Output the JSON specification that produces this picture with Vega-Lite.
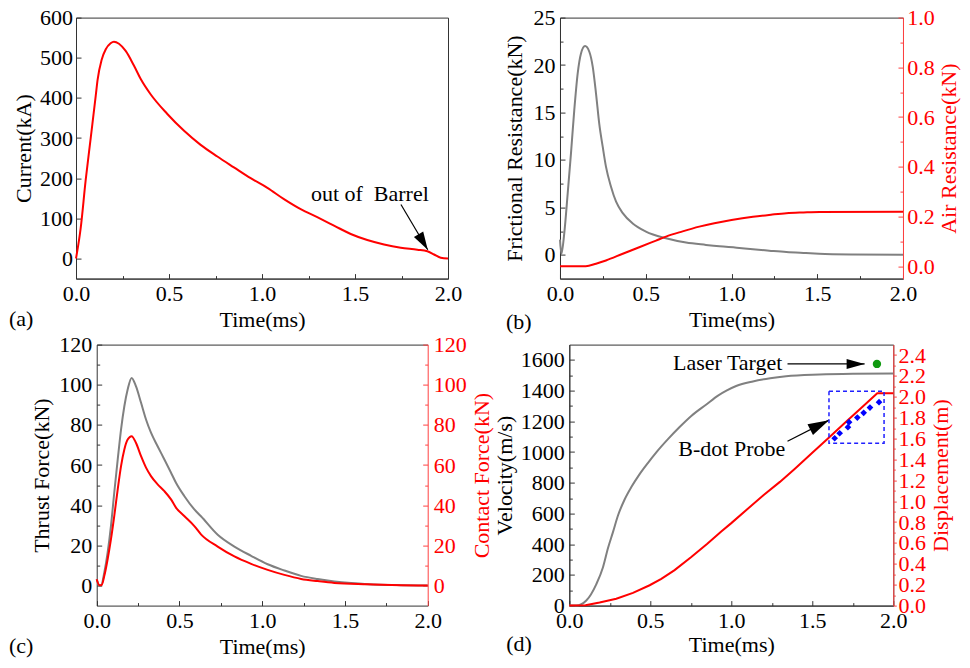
{
  "$schema": "https://vega.github.io/schema/vega-lite/v6.json",
  "padding": {"left": 8, "top": 5.6, "right": 0, "bottom": 0},
  "config": {
    "font": "Liberation Serif",
    "view": {"stroke": "#333333", "strokeWidth": 1},
    "axis": {
      "labelFont": "Liberation Serif", "labelFontSize": 22, "titleFont": "Liberation Serif", "titleFontSize": 22,
      "titleFontWeight": "normal", "labelColor": "black", "titleColor": "black", "domainColor": "#333333",
      "tickColor": "#333333", "grid": false, "labelFlush": false, "labelOverlap": false,
      "minExtent": 0, "maxExtent": 0, "domainWidth": 1, "tickWidth": 1
    },
    "text": {"font": "Liberation Serif", "fontSize": 22},
    "line": {"strokeWidth": 2, "interpolate": "monotone"}
  },
  "datasets": {
    "cur": [
      {"t":0,"v":0},{"t":0.025,"v":75},{"t":0.052,"v":195},{"t":0.079,"v":300},{"t":0.106,"v":405},{"t":0.116,"v":445},
      {"t":0.138,"v":495},{"t":0.16,"v":521},{"t":0.186,"v":536},{"t":0.204,"v":540},{"t":0.231,"v":535},{"t":0.267,"v":517},{"t":0.312,"v":480},
      {"t":0.348,"v":447},{"t":0.401,"v":409},{"t":0.491,"v":360},{"t":0.581,"v":318},{"t":0.67,"v":283},{"t":0.76,"v":254},
      {"t":0.849,"v":227},{"t":0.939,"v":200},{"t":1.029,"v":176},{"t":1.118,"v":148},{"t":1.208,"v":123},{"t":1.297,"v":103},
      {"t":1.387,"v":82},{"t":1.477,"v":61},{"t":1.566,"v":46},{"t":1.656,"v":35},{"t":1.746,"v":27},{"t":1.835,"v":22},
      {"t":1.889,"v":18},{"t":1.925,"v":10},{"t":1.961,"v":2},{"t":2.0,"v":0}
    ],
    "annA": [{"label":"out of\u00a0 Barrel","t":1.263,"v":142.6}],
    "arrA": [{"t":1.747,"v":134.4,"t2":1.891,"v2":21.7}],
    "fric": [
      {"t":0,"v":1.6},{"t":0.008,"v":0.1},{"t":0.025,"v":2.3},{"t":0.045,"v":6.5},{"t":0.064,"v":10.7},{"t":0.083,"v":15.2},
      {"t":0.103,"v":19.1},{"t":0.122,"v":21.2},{"t":0.146,"v":22.0},{"t":0.171,"v":21.4},{"t":0.191,"v":19.8},{"t":0.21,"v":17.0},
      {"t":0.229,"v":13.8},{"t":0.249,"v":11.4},{"t":0.268,"v":9.3},{"t":0.297,"v":7.2},{"t":0.327,"v":5.6},{"t":0.366,"v":4.4},
      {"t":0.424,"v":3.3},{"t":0.501,"v":2.45},{"t":0.618,"v":1.75},{"t":0.735,"v":1.3},{"t":0.851,"v":1.05},{"t":0.93,"v":0.9},
      {"t":1.03,"v":0.75},{"t":1.125,"v":0.58},{"t":1.22,"v":0.44},{"t":1.32,"v":0.3},{"t":1.42,"v":0.2},{"t":1.51,"v":0.12},
      {"t":1.7,"v":0.04},{"t":2.0,"v":0.0}
    ],
    "air": [
      {"t":0,"v":0},{"t":0.15,"v":0},{"t":0.21,"v":0.01},{"t":0.268,"v":0.023},{"t":0.366,"v":0.05},{"t":0.462,"v":0.076},
      {"t":0.56,"v":0.103},{"t":0.618,"v":0.119},{"t":0.715,"v":0.14},{"t":0.812,"v":0.159},{"t":0.9,"v":0.173},{"t":1.0,"v":0.186},
      {"t":1.125,"v":0.199},{"t":1.23,"v":0.207},{"t":1.32,"v":0.213},{"t":1.42,"v":0.216},{"t":1.514,"v":0.218},{"t":2.0,"v":0.219}
    ],
    "thrust": [
      {"t":0,"v":3.1},{"t":0.016,"v":0.15},{"t":0.026,"v":0},{"t":0.046,"v":6.5},{"t":0.066,"v":16.4},{"t":0.086,"v":29.6},
      {"t":0.106,"v":46.2},{"t":0.127,"v":62.8},{"t":0.147,"v":77.7},{"t":0.167,"v":89.3},{"t":0.187,"v":97.6},{"t":0.211,"v":103.4},
      {"t":0.237,"v":99.3},{"t":0.268,"v":91},{"t":0.298,"v":82.7},{"t":0.328,"v":76.1},{"t":0.368,"v":69.4},{"t":0.409,"v":62.8},
      {"t":0.449,"v":56.2},{"t":0.479,"v":51.2},{"t":0.529,"v":44.6},{"t":0.59,"v":37.9},{"t":0.63,"v":34.5},{"t":0.731,"v":25.3},
      {"t":0.832,"v":19.4},{"t":0.933,"v":14.8},{"t":1.033,"v":10.6},{"t":1.134,"v":7.5},{"t":1.235,"v":4.8},{"t":1.335,"v":3.2},
      {"t":1.436,"v":2.0},{"t":1.537,"v":1.2},{"t":1.637,"v":0.66},{"t":1.839,"v":0.17},{"t":2.0,"v":0}
    ],
    "contact": [
      {"t":0,"v":3.1},{"t":0.016,"v":0.15},{"t":0.03,"v":0.3},{"t":0.046,"v":4.8},{"t":0.066,"v":13.1},{"t":0.086,"v":23},
      {"t":0.106,"v":34.6},{"t":0.127,"v":47.9},{"t":0.147,"v":59.5},{"t":0.167,"v":67.8},{"t":0.187,"v":72.7},{"t":0.211,"v":74.4},
      {"t":0.237,"v":71.1},{"t":0.268,"v":64.4},{"t":0.298,"v":58.7},{"t":0.328,"v":54.5},{"t":0.368,"v":50.4},{"t":0.409,"v":47},
      {"t":0.449,"v":42.9},{"t":0.479,"v":38.8},{"t":0.529,"v":34.6},{"t":0.59,"v":29.6},{"t":0.63,"v":25.5},{"t":0.731,"v":19.4},
      {"t":0.832,"v":14.5},{"t":0.933,"v":10.8},{"t":1.033,"v":7.8},{"t":1.134,"v":5.3},{"t":1.235,"v":3.3},{"t":1.335,"v":2.2},
      {"t":1.436,"v":1.3},{"t":1.637,"v":0.66},{"t":1.839,"v":0.17},{"t":2.0,"v":0}
    ],
    "vel": [
      {"t":0,"v":0},{"t":0.043,"v":0},{"t":0.105,"v":33},{"t":0.167,"v":140},{"t":0.208,"v":250},{"t":0.239,"v":375},
      {"t":0.27,"v":480},{"t":0.3,"v":585},{"t":0.34,"v":688},{"t":0.383,"v":772},{"t":0.43,"v":850},{"t":0.486,"v":930},
      {"t":0.537,"v":998},{"t":0.609,"v":1084},{"t":0.681,"v":1163},{"t":0.753,"v":1235},{"t":0.846,"v":1310},{"t":0.918,"v":1368},
      {"t":0.97,"v":1400},{"t":1.03,"v":1430},{"t":1.133,"v":1460},{"t":1.24,"v":1481},{"t":1.338,"v":1494},{"t":1.544,"v":1505},
      {"t":1.75,"v":1510},{"t":2.0,"v":1512}
    ],
    "disp": [
      {"t":0,"v":0},{"t":0.1,"v":0.004},{"t":0.187,"v":0.03},{"t":0.29,"v":0.066},{"t":0.393,"v":0.122},{"t":0.496,"v":0.195},
      {"t":0.568,"v":0.256},{"t":0.65,"v":0.34},{"t":0.753,"v":0.465},{"t":0.85,"v":0.59},{"t":0.938,"v":0.71},{"t":1.0,"v":0.79},
      {"t":1.1,"v":0.925},{"t":1.2,"v":1.06},{"t":1.3,"v":1.185},{"t":1.391,"v":1.309},{"t":1.5,"v":1.464},{"t":1.6,"v":1.606},
      {"t":1.7,"v":1.748},{"t":1.8,"v":1.89},{"t":1.901,"v":2.034},{"t":2.0,"v":2.034}
    ],
    "probe": [
      {"t":1.638,"v":1.603},{"t":1.669,"v":1.651},{"t":1.72,"v":1.709},{"t":1.727,"v":1.757},
      {"t":1.778,"v":1.801},{"t":1.817,"v":1.846},{"t":1.856,"v":1.897},{"t":1.912,"v":1.948}
    ],
    "box": [{"t":1.603,"t2":1.943,"v":1.556,"v2":2.054}],
    "laser": [{"t":1.899,"v":1574}],
    "laserText": [{"label":"Laser Target","t":1.315,"v":1534}],
    "laserArrow": [{"t":1.347,"v":1574,"t2":1.823,"v2":1574}],
    "bdotText": [{"label":"B-dot Probe","t":1.333,"v":973}],
    "bdotArrow": [{"t":1.347,"v":1071,"t2":1.603,"v2":1208}]
  },
  "columns": 1,
  "align": "none",
  "bounds": "full",
  "spacing": 0,
  "concat": [
    {
      "bounds": "flush",
      "spacing": 112,
      "hconcat": [
        {
          "width": 372, "height": 261,
          "title": {"text": "(a)", "orient": "bottom", "anchor": "start", "frame": "group", "baseline": "top", "dx": -67, "offset": -21.4, "font": "Liberation Serif", "fontSize": 22, "fontWeight": "normal", "color": "black"},
          "layer": [
            {
              "data": {"name": "cur"},
              "mark": {"type": "line", "color": "#ff0000"},
              "encoding": {
                "x": {"field": "t", "type": "quantitative", "scale": {"domain": [0, 2], "nice": false, "zero": false},
                  "axis": {"title": "Time(ms)", "values": [0,0.25,0.5,0.75,1,1.25,1.5,1.75,2], "labelOverlap": false,
                    "labelExpr": "(datum.value*2)%1==0 ? format(datum.value,'.1f') : ''",
                    "tickSize": {"condition": {"test": "(datum.value*2)%1==0", "value": -5}, "value": -3},
                    "labelPadding": 9.6, "titlePadding": 30.6, "titleBaseline": "top"}},
                "y": {"field": "v", "type": "quantitative", "scale": {"domain": [-50, 600], "nice": false, "zero": false},
                  "axis": {"title": "Current(kA)", "values": [0,50,100,150,200,250,300,350,400,450,500,550,600], "labelOverlap": false,
                    "labelExpr": "datum.value%100==0 ? datum.label : ''",
                    "tickSize": {"condition": {"test": "datum.value%100==0", "value": -5}, "value": -3},
                    "labelPadding": 8.5, "titlePadding": 41, "titleAngle": 270, "titleBaseline": "bottom"}}
              }
            },
            {
              "data": {"name": "annA"},
              "mark": {"type": "text", "align": "left", "baseline": "alphabetic", "font": "Liberation Serif", "fontSize": 22, "color": "black"},
              "encoding": {
                "x": {"field": "t", "type": "quantitative"},
                "y": {"field": "v", "type": "quantitative"},
                "text": {"field": "label"}
              }
            },
            {
              "data": {"name": "arrA"},
              "mark": {"type": "rule", "color": "black", "strokeWidth": 1.2},
              "encoding": {
                "x": {"field": "t", "type": "quantitative"},
                "y": {"field": "v", "type": "quantitative"},
                "x2": {"field": "t2"}, "y2": {"field": "v2"}
              }
            },
            {
              "data": {"name": "arrA"},
              "mark": {"type": "point", "shape": "M0,0L-0.3,1L0.3,1Z", "filled": true, "color": "black", "opacity": 1, "size": 1296, "angle": 149.4, "strokeWidth": 0},
              "encoding": {
                "x": {"field": "t2", "type": "quantitative"},
                "y": {"field": "v2", "type": "quantitative"}
              }
            }
          ]
        },
        {
          "width": 343, "height": 261,
          "title": {"text": "(b)", "orient": "bottom", "anchor": "start", "frame": "group", "baseline": "top", "dx": -54, "offset": -18.4, "font": "Liberation Serif", "fontSize": 22, "fontWeight": "normal", "color": "black"},
          "layer": [
            {
              "data": {"name": "fric"},
              "mark": {"type": "line", "color": "#808080"},
              "encoding": {
                "x": {"field": "t", "type": "quantitative", "scale": {"domain": [0, 2], "nice": false, "zero": false},
                  "axis": {"title": "Time(ms)", "values": [0,0.25,0.5,0.75,1,1.25,1.5,1.75,2], "labelOverlap": false,
                    "labelExpr": "(datum.value*2)%1==0 ? format(datum.value,'.1f') : ''",
                    "tickSize": {"condition": {"test": "(datum.value*2)%1==0", "value": -5}, "value": -3},
                    "labelPadding": 9.6, "titlePadding": 30.6, "titleBaseline": "top"}},
                "y": {"field": "v", "type": "quantitative", "scale": {"domain": [-2.5, 25], "nice": false, "zero": false},
                  "axis": {"title": "Frictional Resistance(kN)", "values": [0,2.5,5,7.5,10,12.5,15,17.5,20,22.5,25], "labelOverlap": false,
                    "labelExpr": "datum.value%5==0 ? datum.label : ''",
                    "tickSize": {"condition": {"test": "datum.value%5==0", "value": -5}, "value": -3},
                    "labelPadding": 10, "titlePadding": 33.5, "titleAngle": 270, "titleBaseline": "bottom"}}
              }
            },
            {
              "data": {"name": "air"},
              "mark": {"type": "line", "color": "#ff0000"},
              "encoding": {
                "x": {"field": "t", "type": "quantitative"},
                "y": {"field": "v", "type": "quantitative", "scale": {"domain": [-0.05, 1.0], "nice": false, "zero": false},
                  "axis": {"orient": "right", "title": "Air Resistance(kN)", "values": [0,0.1,0.2,0.3,0.4,0.5,0.6,0.7,0.8,0.9,1.0], "labelOverlap": false,
                    "labelExpr": "round(datum.value*10)%2==0 ? format(datum.value,'.1f') : ''",
                    "tickSize": {"condition": {"test": "round(datum.value*10)%2==0", "value": -5}, "value": -3},
                    "labelPadding": 8.7, "titlePadding": 35.8, "titleAngle": 270, "titleBaseline": "top",
                    "labelColor": "#ff0000", "titleColor": "#ff0000", "domainColor": "#ff4040", "tickColor": "#ff4040"}}
              }
            }
          ],
          "resolve": {"scale": {"y": "independent"}}
        }
      ]
    },
    {
      "bounds": "flush",
      "spacing": 141.3,
      "hconcat": [
        {
          "width": 351.7, "height": 261,
          "view": {"stroke": null},
          "title": {"text": "(c)", "orient": "bottom", "anchor": "start", "frame": "group", "baseline": "top", "dx": -67, "offset": -21.4, "font": "Liberation Serif", "fontSize": 22, "fontWeight": "normal", "color": "black"},
          "layer": [
            {
              "data": {"name": "thrust"},
              "mark": {"type": "line", "color": "#808080"},
              "encoding": {
                "x": {"field": "t", "type": "quantitative", "scale": {"domain": [0, 2], "range": [20.7, 351.7], "nice": false, "zero": false},
                  "axis": {"title": "Time(ms)", "values": [0,0.25,0.5,0.75,1,1.25,1.5,1.75,2], "labelOverlap": false,
                    "labelExpr": "(datum.value*2)%1==0 ? format(datum.value,'.1f') : ''",
                    "tickSize": {"condition": {"test": "(datum.value*2)%1==0", "value": -5}, "value": -3},
                    "labelPadding": 9.9, "titlePadding": 30.9, "titleBaseline": "top"}},
                "y": {"field": "v", "type": "quantitative", "scale": {"domain": [-10, 120], "nice": false, "zero": false},
                  "axis": {"title": "Thrust Force(kN)", "values": [0,10,20,30,40,50,60,70,80,90,100,110,120], "labelOverlap": false,
                    "offset": -20.7,
                    "labelExpr": "datum.value%20==0 ? datum.label : ''",
                    "tickSize": {"condition": {"test": "datum.value%20==0", "value": -5}, "value": -3},
                    "labelPadding": 10, "titlePadding": 43.7, "titleAngle": 270, "titleBaseline": "bottom"}}
              }
            },
            {
              "data": {"name": "contact"},
              "mark": {"type": "line", "color": "#ff0000"},
              "encoding": {
                "x": {"field": "t", "type": "quantitative",
                  "axis": {"orient": "top", "title": null, "labels": false, "ticks": false, "domain": true, "domainColor": "#333333"}},
                "y": {"field": "v", "type": "quantitative", "scale": {"domain": [-10, 120], "nice": false, "zero": false},
                  "axis": {"orient": "right", "title": "Contact Force(kN)", "values": [0,10,20,30,40,50,60,70,80,90,100,110,120], "labelOverlap": false,
                    "labelExpr": "datum.value%20==0 ? datum.label : ''",
                    "tickSize": {"condition": {"test": "datum.value%20==0", "value": -5}, "value": -3},
                    "labelPadding": 10.6, "titlePadding": 44.1, "titleAngle": 270, "titleBaseline": "top",
                    "labelColor": "#ff0000", "titleColor": "#ff0000", "domainColor": "#ff4040", "tickColor": "#ff4040"}}
              }
            }
          ],
          "resolve": {"scale": {"y": "independent"}, "axis": {"x": "independent"}}
        },
        {
          "width": 324, "height": 261,
          "title": {"text": "(d)", "orient": "bottom", "anchor": "start", "frame": "group", "baseline": "top", "dx": -63, "offset": -21.4, "font": "Liberation Serif", "fontSize": 22, "fontWeight": "normal", "color": "black"},
          "layer": [
            {
              "data": {"name": "vel"},
              "mark": {"type": "line", "color": "#808080"},
              "encoding": {
                "x": {"field": "t", "type": "quantitative", "scale": {"domain": [0, 2], "nice": false, "zero": false},
                  "axis": {"title": "Time(ms)", "values": [0,0.25,0.5,0.75,1,1.25,1.5,1.75,2], "labelOverlap": false,
                    "labelExpr": "(datum.value*2)%1==0 ? format(datum.value,'.1f') : ''",
                    "tickSize": {"condition": {"test": "(datum.value*2)%1==0", "value": -5}, "value": -3},
                    "labelPadding": 10, "titlePadding": 29.2, "titleBaseline": "top"}},
                "y": {"field": "v", "type": "quantitative", "scale": {"domain": [0, 1700], "nice": false, "zero": false},
                  "axis": {"title": "Velocity(m/s)", "values": [0,100,200,300,400,500,600,700,800,900,1000,1100,1200,1300,1400,1500,1600], "labelOverlap": false,
                    "labelExpr": "datum.value%200==0 ? format(datum.value,'d') : ''",
                    "tickSize": {"condition": {"test": "datum.value%200==0", "value": -5}, "value": -3},
                    "labelPadding": 10, "titlePadding": 52.5, "titleAngle": 270, "titleBaseline": "bottom"}}
              }
            },
            {
              "data": {"name": "laser"},
              "mark": {"type": "point", "shape": "circle", "filled": true, "color": "#109a10", "opacity": 1, "size": 70},
              "encoding": {
                "x": {"field": "t", "type": "quantitative"},
                "y": {"field": "v", "type": "quantitative", "scale": {"domain": [0, 1700], "nice": false, "zero": false}, "axis": null}
              }
            },
            {
              "data": {"name": "laserText"},
              "mark": {"type": "text", "align": "right", "baseline": "alphabetic", "font": "Liberation Serif", "fontSize": 22, "color": "black"},
              "encoding": {
                "x": {"field": "t", "type": "quantitative"},
                "y": {"field": "v", "type": "quantitative", "scale": {"domain": [0, 1700], "nice": false, "zero": false}, "axis": null},
                "text": {"field": "label"}
              }
            },
            {
              "data": {"name": "laserArrow"},
              "mark": {"type": "rule", "color": "black", "strokeWidth": 1.2},
              "encoding": {
                "x": {"field": "t", "type": "quantitative"},
                "y": {"field": "v", "type": "quantitative", "scale": {"domain": [0, 1700], "nice": false, "zero": false}, "axis": null},
                "x2": {"field": "t2"}, "y2": {"field": "v2"}
              }
            },
            {
              "data": {"name": "laserArrow"},
              "mark": {"type": "point", "shape": "M0,0L-0.28,1L0.28,1Z", "filled": true, "color": "black", "opacity": 1, "size": 1296, "angle": 90, "strokeWidth": 0},
              "encoding": {
                "x": {"field": "t2", "type": "quantitative"},
                "y": {"field": "v2", "type": "quantitative", "scale": {"domain": [0, 1700], "nice": false, "zero": false}, "axis": null}
              }
            },
            {
              "data": {"name": "bdotText"},
              "mark": {"type": "text", "align": "right", "baseline": "alphabetic", "font": "Liberation Serif", "fontSize": 22, "color": "black"},
              "encoding": {
                "x": {"field": "t", "type": "quantitative"},
                "y": {"field": "v", "type": "quantitative", "scale": {"domain": [0, 1700], "nice": false, "zero": false}, "axis": null},
                "text": {"field": "label"}
              }
            },
            {
              "data": {"name": "bdotArrow"},
              "mark": {"type": "rule", "color": "black", "strokeWidth": 1.2},
              "encoding": {
                "x": {"field": "t", "type": "quantitative"},
                "y": {"field": "v", "type": "quantitative", "scale": {"domain": [0, 1700], "nice": false, "zero": false}, "axis": null},
                "x2": {"field": "t2"}, "y2": {"field": "v2"}
              }
            },
            {
              "data": {"name": "bdotArrow"},
              "mark": {"type": "point", "shape": "M0,0L-0.29,1L0.29,1Z", "filled": true, "color": "black", "opacity": 1, "size": 1764, "angle": 63.2, "strokeWidth": 0},
              "encoding": {
                "x": {"field": "t2", "type": "quantitative"},
                "y": {"field": "v2", "type": "quantitative", "scale": {"domain": [0, 1700], "nice": false, "zero": false}, "axis": null}
              }
            },
            {
              "data": {"name": "disp"},
              "mark": {"type": "line", "color": "#ff0000", "interpolate": "linear"},
              "encoding": {
                "x": {"field": "t", "type": "quantitative"},
                "y": {"field": "v", "type": "quantitative", "scale": {"domain": [0, 2.5], "nice": false, "zero": false},
                  "axis": {"orient": "right", "title": "Displacement(m)", "labelOverlap": false,
                    "values": [0,0.1,0.2,0.3,0.4,0.5,0.6,0.7,0.8,0.9,1.0,1.1,1.2,1.3,1.4,1.5,1.6,1.7,1.8,1.9,2.0,2.1,2.2,2.3,2.4],
                    "labelExpr": "round(datum.value*10)%2==0 ? format(datum.value,'.1f') : ''",
                    "tickSize": {"condition": {"test": "round(datum.value*10)%2==0", "value": 3}, "value": 2},
                    "labelPadding": 1.7, "titlePadding": 37.5, "titleAngle": 270, "titleBaseline": "top",
                    "labelColor": "#ff0000", "titleColor": "#ff0000", "domainColor": "#ff4040", "tickColor": "#ff4040"}}
              }
            },
            {
              "data": {"name": "box"},
              "mark": {"type": "rect", "fill": null, "fillOpacity": 0, "stroke": "#2020ff", "strokeWidth": 1.5, "strokeDash": [4, 3]},
              "encoding": {
                "x": {"field": "t", "type": "quantitative"},
                "x2": {"field": "t2"},
                "y": {"field": "v", "type": "quantitative", "scale": {"domain": [0, 2.5], "nice": false, "zero": false}, "axis": null},
                "y2": {"field": "v2"}
              }
            },
            {
              "data": {"name": "probe"},
              "mark": {"type": "point", "shape": "diamond", "filled": true, "color": "#0000ff", "opacity": 1, "size": 45},
              "encoding": {
                "x": {"field": "t", "type": "quantitative"},
                "y": {"field": "v", "type": "quantitative", "scale": {"domain": [0, 2.5], "nice": false, "zero": false}, "axis": null}
              }
            }
          ],
          "resolve": {"scale": {"y": "independent"}}
        }
      ]
    }
  ]
}
